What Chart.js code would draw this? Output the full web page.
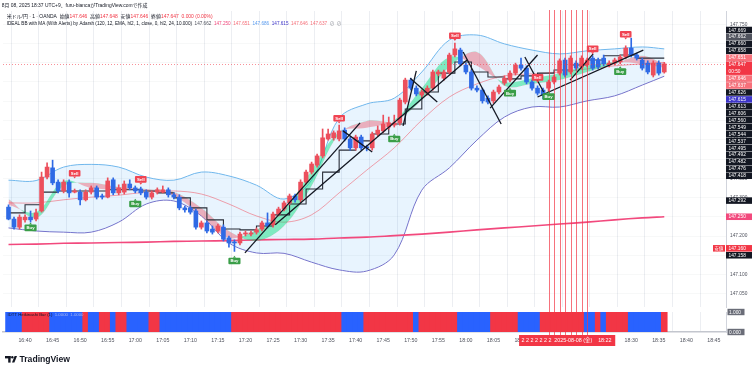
<!DOCTYPE html>
<html>
<head>
<meta charset="utf-8">
<script src="https://cdn.jsdelivr.net/npm/chart.js@4.4.1/dist/chart.umd.min.js"></script>
<style>
  html, body { margin: 0; padding: 0; background: #fff; }
  #wrap { position: relative; width: 756px; height: 371px; overflow: hidden; background: #fff; }
  #price { position: absolute; left: 0; top: 0; }
  #ha { position: absolute; left: 0; top: 305px; }
</style>
</head>
<body>
<div id="wrap">
  <canvas id="price" width="756" height="310"></canvas>
  <canvas id="ha" width="756" height="66"></canvas>
</div>
<script>
const FONT = '"Liberation Sans", "Noto Sans CJK JP", sans-serif';
const RED = '#ec4f5c', BLUE = '#2f6ae5';
const DARK = '#131722';

// 1 minute bars, time in minutes after 16:00 (first bar 16:37)
const firstBar = 37;
const opens = [147.275,147.244,147.223,147.242,147.249,147.244,147.265,147.353,147.377,147.340,
  147.317,147.340,147.314,147.314,147.294,147.314,147.325,147.304,147.301,147.346,
  147.312,147.314,147.335,147.325,147.322,147.314,147.301,147.314,147.314,147.320,
  147.307,147.301,147.273,147.273,147.265,147.223,147.234,147.218,147.213,147.223,
  147.195,147.184,147.182,147.205,147.205,147.210,147.218,147.234,147.229,147.257,
  147.270,147.286,147.304,147.294,147.340,147.366,147.384,147.408,147.452,147.455,
  147.452,147.475,147.452,147.429,147.457,147.431,147.429,147.465,147.473,147.483,
  147.488,147.494,147.548,147.605,147.584,147.566,147.571,147.584,147.621,147.610,
  147.626,147.670,147.683,147.644,147.626,147.584,147.579,147.558,147.551,147.574,
  147.597,147.605,147.623,147.644,147.636,147.600,147.584,147.579,147.584,147.600,
  147.623,147.657,147.626,147.649,147.639,147.644,147.662,147.657,147.662,147.644,
  147.649,147.652,147.665,147.688,147.670,147.657,147.649,147.618,147.649,147.626];
const closes = [147.244,147.223,147.249,147.249,147.242,147.260,147.353,147.379,147.338,147.317,
  147.340,147.312,147.317,147.294,147.314,147.325,147.301,147.301,147.343,147.312,
  147.325,147.335,147.325,147.317,147.312,147.301,147.312,147.320,147.320,147.307,
  147.301,147.273,147.268,147.262,147.223,147.234,147.213,147.210,147.226,147.192,
  147.182,147.182,147.205,147.208,147.208,147.216,147.234,147.226,147.257,147.270,
  147.286,147.304,147.294,147.340,147.366,147.387,147.408,147.455,147.465,147.468,
  147.473,147.452,147.429,147.457,147.429,147.429,147.465,147.475,147.491,147.494,
  147.494,147.553,147.605,147.584,147.569,147.574,147.584,147.626,147.626,147.626,
  147.670,147.686,147.647,147.626,147.584,147.579,147.551,147.548,147.574,147.587,
  147.610,147.623,147.644,147.636,147.600,147.584,147.571,147.566,147.600,147.613,
  147.655,147.618,147.662,147.636,147.662,147.657,147.636,147.639,147.647,147.649,
  147.657,147.665,147.688,147.670,147.662,147.636,147.626,147.649,147.623,147.647];
const highs = [147.281,147.249,147.255,147.255,147.265,147.270,147.366,147.390,147.397,147.346,
  147.346,147.346,147.322,147.320,147.320,147.330,147.330,147.309,147.351,147.351,
  147.333,147.343,147.346,147.330,147.327,147.320,147.317,147.325,147.330,147.325,
  147.312,147.307,147.278,147.278,147.270,147.239,147.239,147.226,147.231,147.229,
  147.200,147.190,147.210,147.213,147.213,147.221,147.239,147.260,147.262,147.275,
  147.291,147.309,147.309,147.346,147.371,147.392,147.413,147.478,147.478,147.473,
  147.488,147.481,147.457,147.462,147.462,147.436,147.470,147.486,147.514,147.509,
  147.514,147.558,147.610,147.610,147.590,147.579,147.590,147.631,147.631,147.631,
  147.675,147.701,147.688,147.649,147.631,147.590,147.584,147.564,147.579,147.592,
  147.616,147.629,147.649,147.662,147.642,147.605,147.590,147.584,147.605,147.618,
  147.660,147.662,147.668,147.655,147.668,147.662,147.668,147.662,147.670,147.655,
  147.662,147.670,147.694,147.714,147.675,147.662,147.655,147.655,147.655,147.651];
const lows = [147.242,147.218,147.218,147.236,147.236,147.239,147.262,147.348,147.333,147.312,
  147.312,147.301,147.312,147.281,147.291,147.309,147.296,147.296,147.299,147.307,
  147.307,147.309,147.320,147.312,147.307,147.296,147.296,147.309,147.312,147.301,
  147.296,147.268,147.262,147.257,147.218,147.218,147.208,147.205,147.208,147.187,
  147.171,147.160,147.177,147.200,147.200,147.205,147.213,147.221,147.223,147.252,
  147.265,147.281,147.288,147.288,147.335,147.361,147.379,147.403,147.449,147.449,
  147.447,147.447,147.423,147.423,147.423,147.421,147.423,147.460,147.468,147.478,
  147.483,147.488,147.543,147.579,147.564,147.561,147.566,147.579,147.616,147.605,
  147.621,147.665,147.642,147.621,147.579,147.574,147.545,147.543,147.545,147.569,
  147.592,147.600,147.618,147.631,147.595,147.579,147.566,147.556,147.574,147.595,
  147.618,147.613,147.621,147.631,147.634,147.639,147.631,147.634,147.642,147.639,
  147.644,147.647,147.660,147.665,147.657,147.631,147.621,147.613,147.618,147.623];
// Heikin Ashi bar direction, 1 = up (red), 0 = down (blue)
const haUp = [0,0,0,1,1,1,1,1,0,0, 0,0,0,0,1,0,0,1,1,0, 1,1,0,0,0,0,1,1,0,0,
  0,0,0,0,0,0,0,0,0,0, 0,1,1,1,1,1,1,1,1,1, 1,1,1,1,1,1,1,1,1,1,
  1,0,0,0,0,1,1,1,1,1, 1,1,1,1,0,1,1,1,1,1, 1,1,0,0,0,0,0,0,1,1,
  1,1,1,0,0,0,0,1,1,1, 1,1,1,1,1,0,0,1,0,1, 1,1,1,0,0,0,0,0,0,1];

// indicator readings, sampled every 5 minutes
const sampleTimes = [37,42,47,52,57,62,67,72,77,82,87,92,97,102,107,112,117,122,127,132,137,142,147,152,156];
const bbUpper = [147.345,147.344,147.379,147.386,147.379,147.353,147.345,147.366,147.356,147.332,147.296,147.345,147.506,
  147.543,147.558,147.626,147.709,147.722,147.699,147.683,147.673,147.681,147.686,147.691,147.686];
const bbBasis = [147.286,147.286,147.294,147.301,147.306,147.314,147.317,147.309,147.283,147.252,147.236,147.255,147.312,
  147.371,147.429,147.501,147.561,147.595,147.616,147.621,147.626,147.634,147.642,147.647,147.651];
const bbLower = [147.221,147.213,147.210,147.210,147.236,147.283,147.291,147.252,147.182,147.156,147.155,147.132,147.112,
  147.109,147.151,147.319,147.377,147.449,147.509,147.535,147.535,147.551,147.564,147.592,147.615];
const longMa = [147.178,147.179,147.181,147.182,147.183,147.184,147.186,147.187,147.188,147.190,147.191,147.192,147.195,
  147.197,147.201,147.205,147.210,147.216,147.221,147.226,147.231,147.236,147.242,147.247,147.250];
const ribbonFast = [147.281,147.262,147.343,147.325,147.320,147.317,147.304,147.252,147.195,147.216,147.268,147.371,147.470,
  147.481,147.501,147.584,147.665,147.642,147.600,147.610,147.623,147.642,147.652,147.647,147.637];
const ribbonSlow = [147.296,147.247,147.330,147.338,147.327,147.322,147.314,147.273,147.213,147.187,147.226,147.330,147.465,
  147.499,147.499,147.553,147.639,147.678,147.590,147.595,147.605,147.626,147.647,147.668,147.646];

// stepped line, sampled every 3 minutes
const stepTimes = [37,40,43,46,49,52,55,58,61,64,67,70,73,76,79,82,85,88,91,94,97,100,103,106,109,112,115,118,121,124,
  127,130,133,136,139,142,145,148,151,154,156];
const stepLine = [147.278,147.260,147.281,147.314,147.317,147.317,147.317,147.320,147.320,147.317,147.312,147.299,147.273,
  147.242,147.218,147.216,147.226,147.255,147.283,147.322,147.366,147.423,147.447,147.465,147.491,147.530,147.574,147.623,
  147.652,147.626,147.613,147.608,147.616,147.623,147.631,147.644,147.657,147.668,147.670,147.662,147.662];

const buyTimes = [41,60,78,107,128,135,148];
const buyLevels = [147.221,147.283,147.135,147.452,147.571,147.562,147.627];
const sellTimes = [49,61,97,118,133,143,149];
const sellLevels = [147.363,147.347,147.506,147.720,147.612,147.686,147.724];

// hand drawn trend lines: [t1, p1, t2, p2]
const trendLines = [
  [79.9,147.156,100.8,147.494], [85.4,147.229,120.2,147.657], [97.7,147.473,103.0,147.418],
  [108.6,147.486,111.0,147.629], [109.9,147.610,114.8,147.548], [119.5,147.678,126.4,147.491],
  [124.4,147.532,133.0,147.670], [130.7,147.665,134.1,147.574], [133.0,147.561,152.2,147.683],
  [138.9,147.605,143.1,147.673]];
const markerTimes = [135,136,137,138,139,140,141,142];

const lastPrice = 147.647;
const axisTags = [
  [147.669,'dark'],[147.662,'gray'],[147.660,'dark'],[147.658,'dark'],[147.651,'rose'],[147.647,'last'],
  [147.646,'rose'],[147.637,'rose'],[147.626,'dark'],[147.615,'indigo'],[147.613,'dark'],[147.606,'dark'],
  [147.560,'dark'],[147.549,'dark'],[147.544,'dark'],[147.537,'dark'],[147.495,'dark'],[147.492,'dark'],
  [147.482,'dark'],[147.476,'dark'],[147.418,'dark'],[147.292,'dark'],[147.250,'pink'],[147.160,'low'],
  [147.158,'dark']];
const tagColors = { dark: '#131722', gray: '#50535e', rose: '#f7707a', last: '#f23645', indigo: '#3d35c8', pink: '#f2497d', low: '#f23645' };

const xMin = 36.0, xMax = 167.2;
const yMax = 147.7844, yMin = 147.0156;

const times = opens.map((_, i) => firstBar + i);
const hhmm = m => (16 + Math.floor(m / 60)) + ':' + String(Math.round(m % 60)).padStart(2, '0');
const candleColor = c => closes[c.dataIndex] >= opens[c.dataIndex] ? RED : BLUE;
const pts = (ts, vs) => ts.map((t, i) => ({ x: t, y: vs[i] }));

function fitRuns(ctx, runs, x, y, width, weight) {
  ctx.font = weight + ' 10px ' + FONT;
  const total = runs.reduce((s, r) => s + ctx.measureText(r[0]).width, 0);
  ctx.font = weight + ' ' + (10 * width / total) + 'px ' + FONT;
  ctx.textBaseline = 'middle';
  ctx.textAlign = 'left';
  let cx = x;
  runs.forEach(([t, c]) => {
    ctx.fillStyle = c;
    ctx.fillText(t, cx, y);
    cx += ctx.measureText(t).width;
  });
}

function drawSignal(ctx, px, py, text, color, pointUp) {
  ctx.font = 'bold 4.3px ' + FONT;
  const w = ctx.measureText(text).width + 4, h = 6.6;
  ctx.fillStyle = color;
  ctx.beginPath();
  ctx.roundRect(px - w / 2, py - h / 2, w, h, 1);
  ctx.fill();
  ctx.beginPath();
  if (pointUp) {
    ctx.moveTo(px - 1.5, py - h / 2); ctx.lineTo(px, py - h / 2 - 2); ctx.lineTo(px + 1.5, py - h / 2);
  } else {
    ctx.moveTo(px - 1.5, py + h / 2); ctx.lineTo(px, py + h / 2 + 2); ctx.lineTo(px + 1.5, py + h / 2);
  }
  ctx.fill();
  ctx.fillStyle = '#fff';
  ctx.textAlign = 'center';
  ctx.textBaseline = 'middle';
  ctx.fillText(text, px, py + 0.2);
}

// group overlapping scale tags, centre each group on its tags, keep it below the legend
function layoutTags(y, top, rowH) {
  const groups = axisTags.map(([v, kind]) => {
    const n = y.getPixelForValue(v);
    return { tags: [[v, kind]], rows: kind === 'last' ? [n, n + rowH] : [n] };
  });
  const place = g => {
    const mean = g.rows.reduce((s, r) => s + r, 0) / g.rows.length;
    g.start = Math.max(top, mean - (g.rows.length - 1) * rowH / 2);
  };
  groups.forEach(place);
  let merged = true;
  while (merged) {
    merged = false;
    for (let i = 0; i < groups.length - 1; i++) {
      const g = groups[i], h = groups[i + 1];
      if (h.start < g.start + g.rows.length * rowH) {
        g.tags.push(...h.tags);
        g.rows.push(...h.rows);
        place(g);
        groups.splice(i + 1, 1);
        merged = true;
        break;
      }
    }
  }
  return groups;
}

const priceOverlay = {
  id: 'priceOverlay',
  afterDatasetsDraw(chart) {
    const { ctx, chartArea: a, scales: { x, y } } = chart;
    ctx.save();
    ctx.lineWidth = 1;
    ctx.strokeStyle = 'rgba(242,54,69,0.55)';
    ctx.setLineDash([1, 2]);
    const py = Math.round(y.getPixelForValue(lastPrice)) + 0.5;
    ctx.beginPath(); ctx.moveTo(a.left, py); ctx.lineTo(a.right, py); ctx.stroke();
    ctx.setLineDash([]);
    ctx.strokeStyle = 'rgba(242,54,69,0.7)';
    markerTimes.forEach(t => {
      const px = Math.round(x.getPixelForValue(t)) + 0.5;
      ctx.beginPath(); ctx.moveTo(px, 10); ctx.lineTo(px, chart.height); ctx.stroke();
    });
    buyTimes.forEach((t, i) => drawSignal(ctx, x.getPixelForValue(t), y.getPixelForValue(buyLevels[i]), 'Buy', '#3a9e48', true));
    sellTimes.forEach((t, i) => drawSignal(ctx, x.getPixelForValue(t), y.getPixelForValue(sellLevels[i]), 'Sell', '#f04452', false));
    ctx.restore();
  },
  afterDraw(chart) {
    const { ctx, chartArea: a, scales: { y } } = chart;
    ctx.save();
    fitRuns(ctx, [['8月 08, 2025 18:37 UTC+9、furu-biancaがTradingView.comで作成', DARK]], 1.7, 5.7, 146, 'normal');
    const r = '#f23645';
    fitRuns(ctx, [['米ドル/円 · 1 · OANDA  ', DARK], ['始値', DARK], ['147.646', r], ['  高値', DARK], ['147.648', r],
      ['  安値', DARK], ['147.646', r], ['  終値', DARK], ['147.647', r], ['  0.000 (0.00%)', r]], 6.7, 16.2, 206, 'normal');
    fitRuns(ctx, [['IDEAL BB with MA (With Alerts) by Adarsh (120, 12, EMA, hl2, 1, close, 0, hl2, 24, 10.000)  ', DARK],
      ['147.662', '#50535e'], ['  147.250', '#f2497d'], ['  147.651', '#f7707a'], ['  147.686', '#5a9cf0'],
      ['  147.615', '#3d35c8'], ['  147.646', '#f7707a'], ['  147.637', '#f7707a'], ['  ⊘  ⊘', '#787b86']], 6.7, 24, 336, 'normal');

    const rowH = 6.94, w = 26;
    ctx.font = '4.8px ' + FONT;
    ctx.textBaseline = 'middle';
    ctx.textAlign = 'left';
    layoutTags(y, a.top + 19, rowH).forEach(g => {
      let cy = g.start;
      g.tags.forEach(([v, kind]) => {
        const extra = kind === 'last' ? rowH : 0;
        ctx.fillStyle = tagColors[kind];
        ctx.fillRect(a.right, cy - rowH / 2 + 0.2, w, rowH - 0.4 + extra);
        ctx.fillStyle = '#fff';
        ctx.fillText(v.toFixed(3), a.right + 2.5, cy + 0.2);
        if (kind === 'last') ctx.fillText('00:50', a.right + 2.5, cy + rowH + 0.2);
        if (kind === 'low') {
          ctx.fillStyle = tagColors.low;
          ctx.fillRect(a.right - 13, cy - rowH / 2 + 0.2, 12, rowH - 0.4);
          ctx.fillStyle = '#fff';
          ctx.font = '4.4px ' + FONT;
          ctx.fillText('安値', a.right - 11.5, cy + 0.2);
          ctx.font = '4.8px ' + FONT;
        }
        cy += rowH + extra;
      });
    });
    ctx.restore();
  }
};

const lineSet = (label, data, color, width, order, extra) => Object.assign({
  type: 'line', label, data, borderColor: color, borderWidth: width, pointRadius: 0,
  tension: 0.35, fill: false, order
}, extra || {});

const priceChart = new Chart(document.getElementById('price').getContext('2d'), {
  type: 'line',
  data: {
    datasets: [
      lineSet('BB upper', pts(sampleTimes, bbUpper), '#70b7ec', 1, 10, { fill: '+1', backgroundColor: 'rgba(33,150,243,0.1)' }),
      lineSet('BB lower', pts(sampleTimes, bbLower), '#7c73c9', 1, 10),
      lineSet('BB basis', pts(sampleTimes, bbBasis), 'rgba(242,54,69,0.45)', 1, 8),
      lineSet('Long MA', pts(sampleTimes, longMa), '#f2497d', 1.6, 7),
      lineSet('Fast', pts(sampleTimes, ribbonFast), 'transparent', 0, 6,
        { fill: { target: '+1', above: 'rgba(0,222,120,0.45)', below: 'rgba(236,80,100,0.42)' } }),
      lineSet('Slow', pts(sampleTimes, ribbonSlow), 'transparent', 0, 6),
      lineSet('Step', pts(stepTimes, stepLine), '#2a2e39', 1.1, 5, { stepped: 'after', tension: 0 }),
      {
        type: 'bar', label: 'wicks', data: times.map((t, i) => ({ x: t, y: [lows[i], highs[i]] })),
        backgroundColor: candleColor, barThickness: 1, grouped: false, minBarLength: 1, order: 2
      },
      {
        type: 'bar', label: 'bodies', data: times.map((t, i) => ({ x: t, y: [opens[i], closes[i]] })),
        backgroundColor: candleColor, barThickness: 4, grouped: false, minBarLength: 1, order: 1
      },
      ...trendLines.map((l, i) => lineSet('trend ' + i, [{ x: l[0], y: l[1] }, { x: l[2], y: l[3] }], DARK, 1.3, -1, { tension: 0 }))
    ]
  },
  options: {
    responsive: false, animation: false, devicePixelRatio: 1, events: [],
    layout: { padding: { top: 11, left: 3, right: 0, bottom: 3 } },
    plugins: { legend: { display: false }, tooltip: { enabled: false } },
    scales: {
      x: {
        type: 'linear', min: xMin, max: xMax, offset: false,
        afterFit(s) { s.height = 0; s.paddingLeft = 0; s.paddingRight = 0; },
        ticks: { display: false, stepSize: 5, includeBounds: false },
        grid: { color: '#eceef2', drawTicks: false },
        border: { display: false }
      },
      y: {
        position: 'right', min: yMin, max: yMax,
        afterFit(s) { s.width = 30; s.paddingTop = 0; s.paddingBottom = 0; },
        ticks: {
          stepSize: 0.05, includeBounds: false, padding: 4, color: '#50535e',
          font: { size: 4.8, family: FONT }, callback: v => v.toFixed(3)
        },
        grid: { color: 'rgba(42,46,57,0.035)', drawTicks: false },
        border: { color: '#d1d4dc' }
      }
    }
  },
  plugins: [priceOverlay]
});

const haOverlay = {
  id: 'haOverlay',
  afterDraw(chart) {
    const { ctx, chartArea: a, scales: { x, y } } = chart;
    ctx.save();
    ctx.lineWidth = 1;
    ctx.strokeStyle = 'rgba(242,54,69,0.7)';
    markerTimes.forEach(t => {
      const px = Math.round(x.getPixelForValue(t)) + 0.5;
      ctx.beginPath(); ctx.moveTo(px, 5); ctx.lineTo(px, a.bottom + 3); ctx.stroke();
    });
    // pane title
    ctx.textBaseline = 'middle';
    ctx.textAlign = 'left';
    ctx.font = '4.3px ' + FONT;
    ctx.fillStyle = DARK;
    ctx.fillText('IDTT Heikinashi Bar (1)', a.left + 4.5, a.top + 2.8);
    const tw = ctx.measureText('IDTT Heikinashi Bar (1)  ').width;
    ctx.fillStyle = 'rgba(190,200,235,0.85)';
    ctx.fillText('1.0000  1.0000', a.left + 4.5 + tw, a.top + 2.8);
    // scale values
    ctx.font = '4.8px ' + FONT;
    [1, 0].forEach(v => {
      const cy = y.getPixelForValue(v);
      ctx.fillStyle = '#6a6d78';
      ctx.fillRect(a.right + 1.5, cy - 3.2, 17, 6.4);
      ctx.fillStyle = '#fff';
      ctx.fillText(v.toFixed(3), a.right + 3, cy + 0.2);
    });
    // time box under the marker lines
    const bx0 = x.getPixelForValue(markerTimes[0] - 5.35);
    const bx1 = x.getPixelForValue(markerTimes[markerTimes.length - 1] + 5.1);
    ctx.fillStyle = '#f23645';
    ctx.fillRect(bx0, a.bottom + 3, bx1 - bx0, 11);
    fitRuns(ctx, [['2 2 2 2 2 2 2  2025-08-08 (金)    18:22', '#fff']], bx0 + 2.5, a.bottom + 8.6, bx1 - bx0 - 6, 'normal');
    // TradingView logo
    ctx.fillStyle = DARK;
    const ly = 51;
    ctx.fillRect(5, ly, 5.6, 2.4);
    ctx.fillRect(8.2, ly, 2.4, 6.6);
    ctx.beginPath(); ctx.arc(12.3, ly + 1.2, 1.2, 0, Math.PI * 2); ctx.fill();
    ctx.beginPath();
    ctx.moveTo(14.6, ly); ctx.lineTo(17, ly); ctx.lineTo(14.4, ly + 6.6); ctx.lineTo(12, ly + 6.6);
    ctx.closePath(); ctx.fill();
    fitRuns(ctx, [['TradingView', DARK]], 19.5, ly + 3.4, 50.5, 'bold');
    ctx.restore();
  }
};

const haChart = new Chart(document.getElementById('ha').getContext('2d'), {
  type: 'bar',
  data: {
    datasets: [{
      label: 'Heikin Ashi', data: times.map(t => ({ x: t, y: [0, 1] })),
      backgroundColor: c => haUp[c.dataIndex] ? '#f23645' : '#2962ff',
      barThickness: 5.9, grouped: false
    }]
  },
  options: {
    responsive: false, animation: false, devicePixelRatio: 1, events: [],
    layout: { padding: { top: 7, left: 3, right: 0, bottom: 29 } },
    plugins: { legend: { display: false }, tooltip: { enabled: false } },
    scales: {
      x: {
        type: 'linear', min: xMin, max: xMax, offset: false,
        afterFit(s) { s.height = 10; s.paddingLeft = 0; s.paddingRight = 0; },
        ticks: {
          stepSize: 5, includeBounds: false, autoSkip: false, maxRotation: 0, padding: 5,
          color: '#50535e', font: { size: 5.3, family: FONT }, callback: v => hhmm(v)
        },
        grid: { color: '#eceef2', drawTicks: false },
        border: { color: '#c3c6ce', width: 1.5 }
      },
      y: {
        position: 'right', min: 0, max: 1,
        afterFit(s) { s.width = 30; s.paddingTop = 0; s.paddingBottom = 0; },
        ticks: { display: false },
        grid: { display: false, drawTicks: false },
        border: { color: '#d1d4dc' }
      }
    }
  },
  plugins: [haOverlay]
});
</script>
</body>
</html>
